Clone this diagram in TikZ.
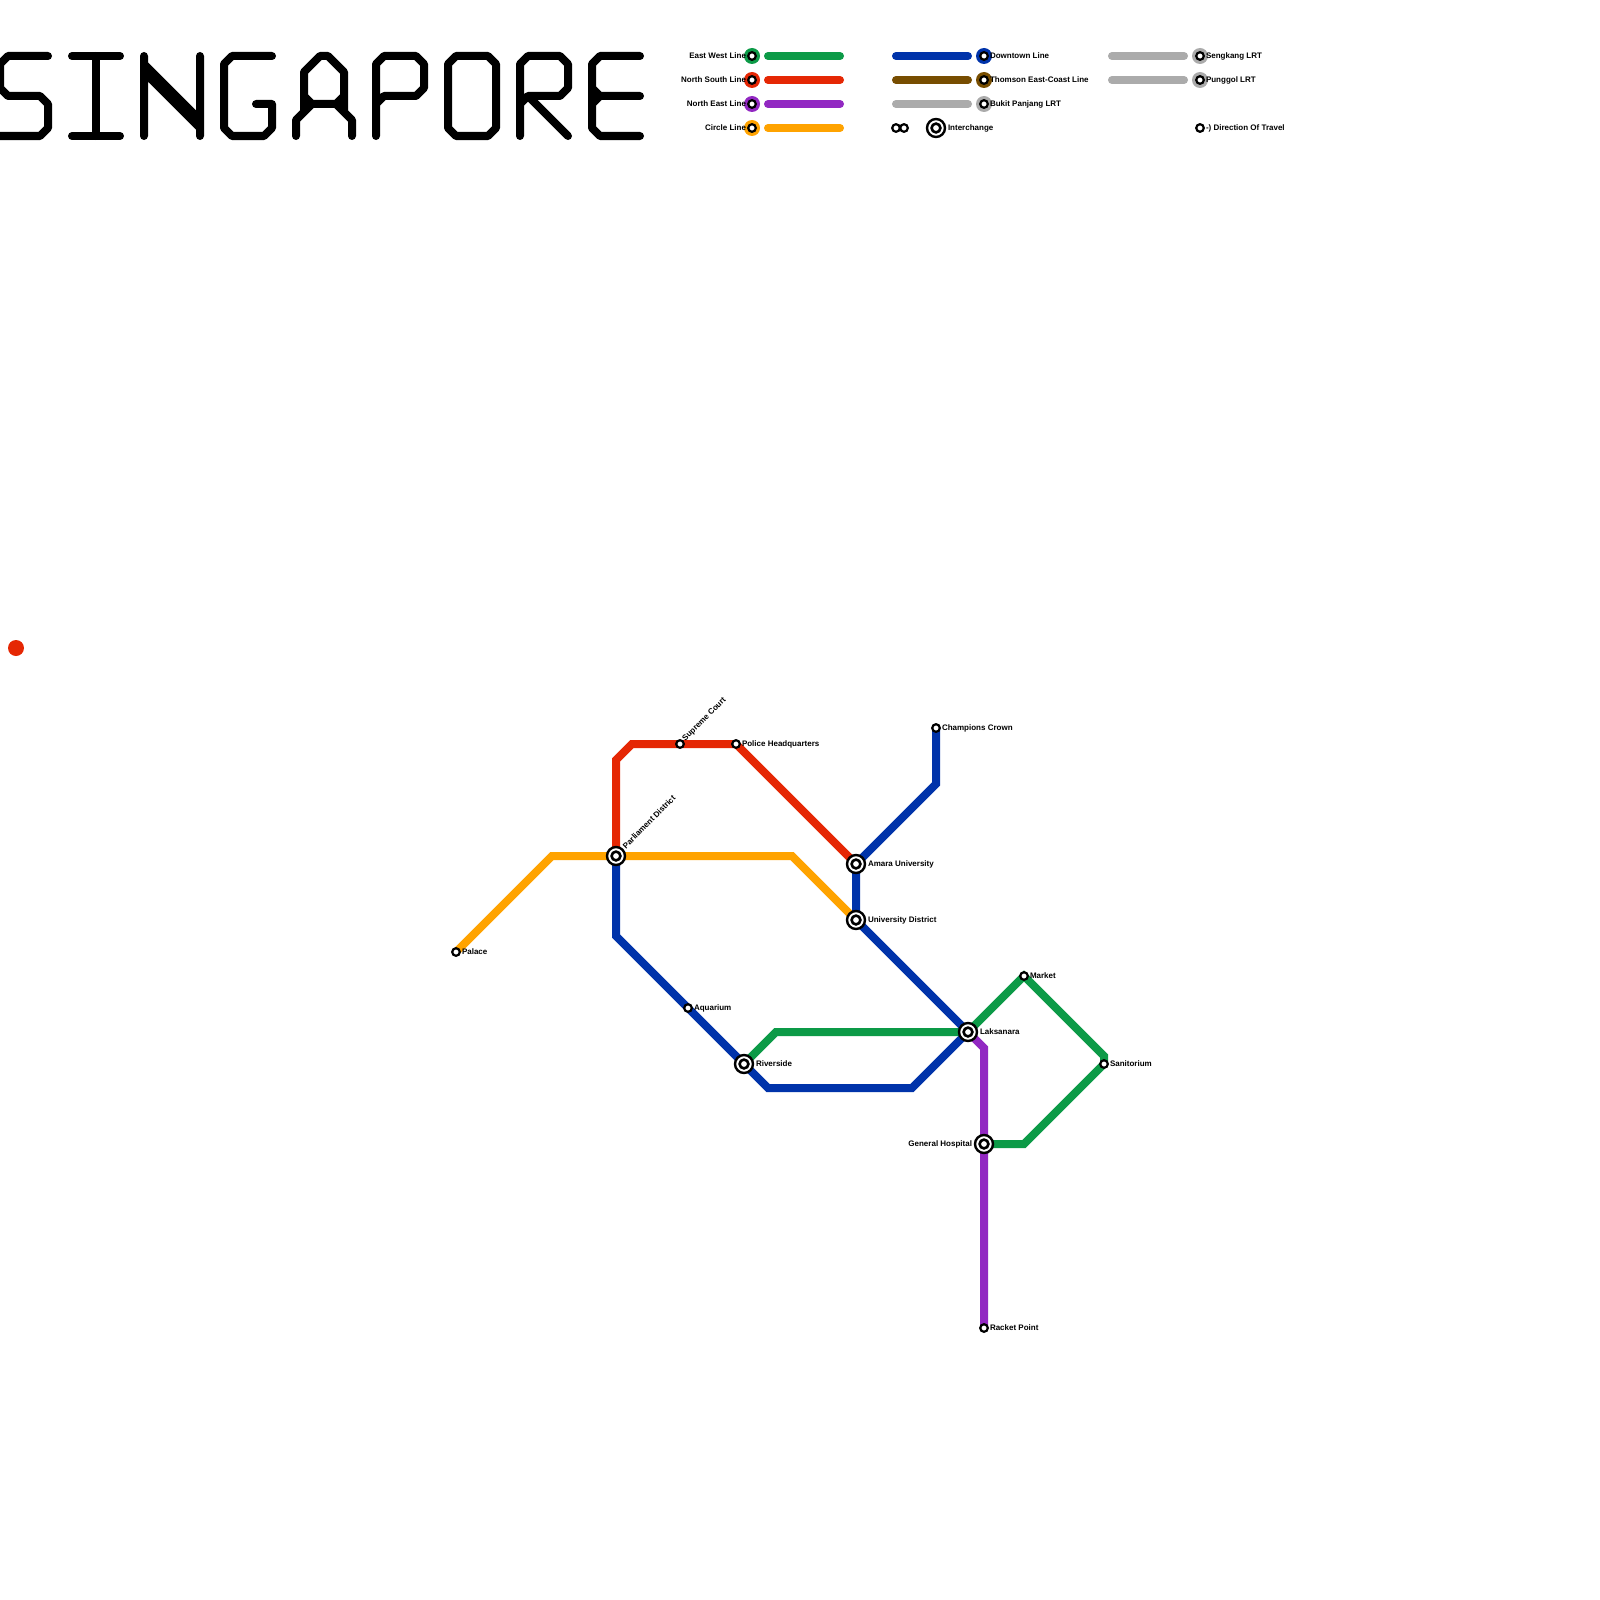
\documentclass[tikz,border=0pt]{standalone}
\usepackage{fontspec}
\setmainfont{Liberation Sans}
\definecolor{ewl}{HTML}{0C9A47}
\definecolor{nsl}{HTML}{E52704}
\definecolor{nel}{HTML}{9228C2}
\definecolor{ccl}{HTML}{FFA300}
\definecolor{dtl}{HTML}{0033AA}
\definecolor{tel}{HTML}{774D00}
\definecolor{lrt}{HTML}{ABABAB}
\tikzset{
  title/.style={draw=black,line width=8pt,line cap=round,line join=round},
  mline/.style={line width=8pt,line cap=butt,line join=miter},
  legline/.style={line width=8pt,line cap=round},
  small/.style={circle,draw=black,fill=white,line width=2.2pt,minimum size=7.6pt,inner sep=0pt,outer sep=0pt},
  ring/.style={circle,fill=#1,minimum size=16pt,inner sep=0pt,outer sep=0pt},
  inter/.style={circle,draw=black,fill=white,line width=2.4pt,minimum size=18pt,inner sep=0pt,outer sep=0pt},
  intercore/.style={circle,draw=black,fill=white,line width=2.6pt,minimum size=8.8pt,inner sep=0pt,outer sep=0pt},
  lab/.style={font=\bfseries\fontsize{8}{9}\selectfont,inner sep=0pt,outer sep=0pt,text=black,anchor=west},
  labr/.style={lab,anchor=east},
  lab45/.style={lab,rotate=45,anchor=west},
}
\begin{document}
\begin{tikzpicture}[x=1pt,y=-1pt]
\useasboundingbox (0,0) rectangle (1600,1600);
\fill[white] (0,0) rectangle (1600,1600);
% title
\begin{scope}
\clip (0,0) rectangle (1600,1600);
\draw[title] (48,56)--(8,56)--(0,64)--(0,88)--(8,96)--(40,96)--(48,104)--(48,128)--(40,136)--(-8,136);
\draw[title] (72,56)--(120,56) (72,136)--(120,136) (96,56)--(96,136);
\draw[title] (144,136)--(144,56) (200,56)--(200,136) (144,64)--(200,120) (144,72)--(200,128);
\draw[title] (272,56)--(232,56)--(224,64)--(224,128)--(232,136)--(264,136)--(272,128)--(272,104)--(256,104);
\draw[title] (296,136)--(296,120)--(312,104)--(336,104)--(352,120)--(352,136) (304,112)--(304,72)--(320,56)--(328,56)--(344,72)--(344,112) (304,96)--(312,104) (344,96)--(336,104);
\draw[title] (376,136)--(376,64)--(384,56)--(416,56)--(424,64)--(424,88)--(416,96)--(384,96)--(376,104);
\draw[title] (456,56)--(488,56)--(496,64)--(496,128)--(488,136)--(456,136)--(448,128)--(448,64)--cycle;
\draw[title] (520,136)--(520,64)--(528,56)--(560,56)--(568,64)--(568,88)--(560,96)--(528,96)--(520,104) (528,96)--(568,136);
\draw[title] (640,56)--(600,56)--(592,64)--(592,128)--(600,136)--(640,136) (592,88)--(600,96)--(640,96) (600,96)--(592,104);
\end{scope}
% stray dot
\node[circle,fill=nsl,minimum size=16pt,inner sep=0pt] (dot) at (16,648) {};
% map coordinates
\coordinate (r1) at (616,760); \coordinate (r2) at (632,744);
\coordinate (o1) at (552,856); \coordinate (o2) at (792,856);
\coordinate (b1) at (936,784); \coordinate (b2) at (616,936);
\coordinate (b3) at (768,1088); \coordinate (b4) at (912,1088);
\coordinate (g1) at (776,1032); \coordinate (g2) at (1104,1056);
\coordinate (g3) at (1024,1144); \coordinate (p1) at (984,1048);
\coordinate (sPD) at (616,856); \coordinate (sAU) at (856,864);
\coordinate (sUD) at (856,920); \coordinate (sLA) at (968,1032);
\coordinate (sRI) at (744,1064); \coordinate (sGH) at (984,1144);
\coordinate (sPA) at (456,952); \coordinate (sSC) at (680,744);
\coordinate (sPH) at (736,744); \coordinate (sCC) at (936,728);
\coordinate (sAQ) at (688,1008); \coordinate (sMA) at (1024,976);
\coordinate (sSA) at (1104,1064); \coordinate (sRP) at (984,1328);
% lines
\draw[mline,nsl] (sPD)--(r1)--(r2)--(sSC)--(sPH)--(sAU);
\draw[mline,ccl] (sPA)--(o1)--(sPD)--(o2)--(sUD);
\draw[mline,dtl] (sCC)--(b1)--(sAU)--(sUD)--(sLA);
\draw[mline,dtl] (sPD)--(b2)--(sAQ)--(sRI)--(b3)--(b4)--(sLA);
\draw[mline,ewl] (sRI)--(g1)--(sLA)--(sMA)--(g2)--(sSA)--(g3)--(sGH);
\draw[mline,nel] (sLA)--(p1)--(sGH)--(sRP);
% stations
\foreach \c/\n in {sPD/PD,sAU/AU,sUD/UD,sLA/LA,sRI/RI,sGH/GH}{
  \node[inter] (\n) at (\c) {};
  \node[intercore] (\n c) at (\c) {};
}
\foreach \c/\n in {sPA/PA,sSC/SC,sPH/PH,sCC/CC,sAQ/AQ,sMA/MA,sSA/SA,sRP/RP}{
  \node[small] (\n) at (\c) {};
}
% map labels
\node[lab] (lPA) at (462,952) {Palace};
\node[lab45] (lSC) at (684,740) {Supreme Court};
\node[lab] (lPH) at (742,744) {Police Headquarters};
\node[lab] (lCC) at (942,728) {Champions Crown};
\node[lab45] (lPD) at (624,847) {Parliament District};
\node[lab] (lAU) at (868,864) {Amara University};
\node[lab] (lUD) at (868,920) {University District};
\node[lab] (lAQ) at (694,1008) {Aquarium};
\node[lab] (lRI) at (756,1064) {Riverside};
\node[lab] (lLA) at (980,1032) {Laksanara};
\node[lab] (lMA) at (1030,976) {Market};
\node[lab] (lSA) at (1110,1064) {Sanitorium};
\node[labr] (lGH) at (972,1144) {General Hospital};
\node[lab] (lRP) at (990,1328) {Racket Point};
% legend
\foreach \y/\col/\n/\t in {56/ewl/ew/East West Line,80/nsl/ns/North South Line,104/nel/ne/North East Line,128/ccl/cc/Circle Line}{
  \coordinate (\n a) at (768,\y); \coordinate (\n b) at (840,\y);
  \draw[legline,\col] (\n a)--(\n b);
  \node[ring=\col] (\n r) at (752,\y) {};
  \node[small] (\n s) at (752,\y) {};
  \node[labr] (\n l) at (746,\y) {\t};
}
\foreach \y/\col/\n/\t in {56/dtl/dt/Downtown Line,80/tel/te/Thomson East-Coast Line,104/lrt/bp/Bukit Panjang LRT}{
  \coordinate (\n a) at (896,\y); \coordinate (\n b) at (968,\y);
  \draw[legline,\col] (\n a)--(\n b);
  \node[ring=\col] (\n r) at (984,\y) {};
  \node[small] (\n s) at (984,\y) {};
  \node[lab] (\n l) at (990,\y) {\t};
}
\foreach \y/\col/\n/\t in {56/lrt/sk/Sengkang LRT,80/lrt/pg/Punggol LRT}{
  \coordinate (\n a) at (1112,\y); \coordinate (\n b) at (1184,\y);
  \draw[legline,\col] (\n a)--(\n b);
  \node[ring=\col] (\n r) at (1200,\y) {};
  \node[small] (\n s) at (1200,\y) {};
  \node[lab] (\n l) at (1206,\y) {\t};
}
\node[small] (tr1) at (896,128) {};
\node[small] (tr2) at (904,128) {};
\node[inter] (keyi) at (936,128) {};
\node[intercore] (keyc) at (936,128) {};
\node[lab] (keyl) at (948,128) {Interchange};
\node[small] (dirs) at (1200,128) {};
\node[lab] (dirl) at (1206,128) {-) Direction Of Travel};
\end{tikzpicture}
\end{document}
